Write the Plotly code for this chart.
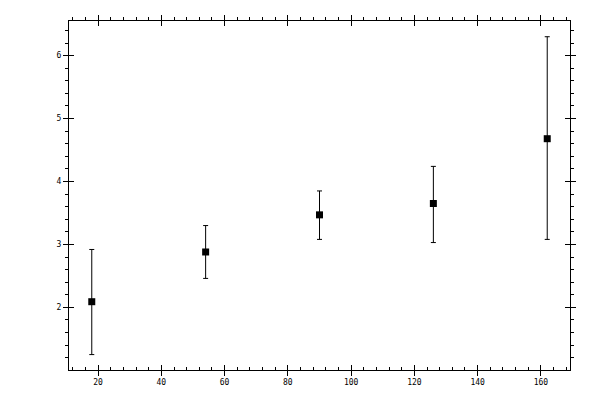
import plotly.graph_objects as go

# measured points with asymmetric error bars
x_vals = [18, 54, 90, 126, 162]
y_vals = [2.09, 2.88, 3.47, 3.65, 4.68]
y_upper = [2.92, 3.30, 3.85, 4.24, 6.30]
y_lower = [1.25, 2.46, 3.08, 3.03, 3.08]

err_plus = [u - y for u, y in zip(y_upper, y_vals)]
err_minus = [y - l for y, l in zip(y_vals, y_lower)]

x_range = [10.8, 169.2]
y_range = [1.005, 6.55]

fig = go.Figure()
fig.add_trace(go.Scatter(
    x=x_vals, y=y_vals, mode='markers',
    marker=dict(symbol='square', size=7, color='black'),
    error_y=dict(type='data', symmetric=False, array=err_plus, arrayminus=err_minus,
                 color='black', thickness=1, width=2.5),
    showlegend=False))

common = dict(range=x_range, showgrid=False, zeroline=False, tickcolor='black',
              dtick=20, tick0=0, linecolor='black')
# page body has an 8px offset, margins compensate for that
fig.update_layout(
    width=600, height=400,
    margin=dict(l=61, r=38, t=8, b=38),
    paper_bgcolor='white', plot_bgcolor='white',
    font=dict(family='DejaVu Sans Mono', size=8, color='black'),
    xaxis=dict(**common, showline=True, ticks='inside', ticklen=5,
               minor=dict(dtick=4, ticks='inside', ticklen=3, tickcolor='black'),
               ticklabelstandoff=4),
    xaxis2=dict(**common, overlaying='x', side='bottom', anchor='y', ticks='outside', ticklen=5,
                showticklabels=False, showline=False),
    xaxis3=dict(**common, overlaying='x', side='top', anchor='y', ticks='outside', ticklen=5,
                minor=dict(dtick=4, ticks='outside', ticklen=3, tickcolor='black'),
                showticklabels=False, showline=True),
    xaxis4=dict(**common, overlaying='x', side='top', anchor='y', ticks='inside', ticklen=5,
                showticklabels=False, showline=False),
)
ycommon = dict(range=y_range, showgrid=False, zeroline=False, tickcolor='black',
               dtick=1, tick0=0, linecolor='black')
fig.update_layout(
    yaxis=dict(**ycommon, showline=True, ticks='outside', ticklen=5,
               minor=dict(dtick=0.2, ticks='outside', ticklen=3, tickcolor='black')),
    yaxis2=dict(**ycommon, overlaying='y', side='left', anchor='x', ticks='inside', ticklen=5,
                showticklabels=False, showline=False),
    yaxis3=dict(**ycommon, overlaying='y', side='right', anchor='x', ticks='outside', ticklen=5,
                minor=dict(dtick=0.2, ticks='outside', ticklen=3, tickcolor='black'),
                showticklabels=False, showline=True),
    yaxis4=dict(**ycommon, overlaying='y', side='right', anchor='x', ticks='inside', ticklen=5,
                showticklabels=False, showline=False),
)
# dummy traces so the overlay axes get drawn
for xa, ya in [('x2', 'y2'), ('x3', 'y3'), ('x4', 'y4')]:
    fig.add_trace(go.Scatter(x=[None], y=[None], xaxis=xa, yaxis=ya, showlegend=False,
                             hoverinfo='skip'))

fig.write_html("out.html")
